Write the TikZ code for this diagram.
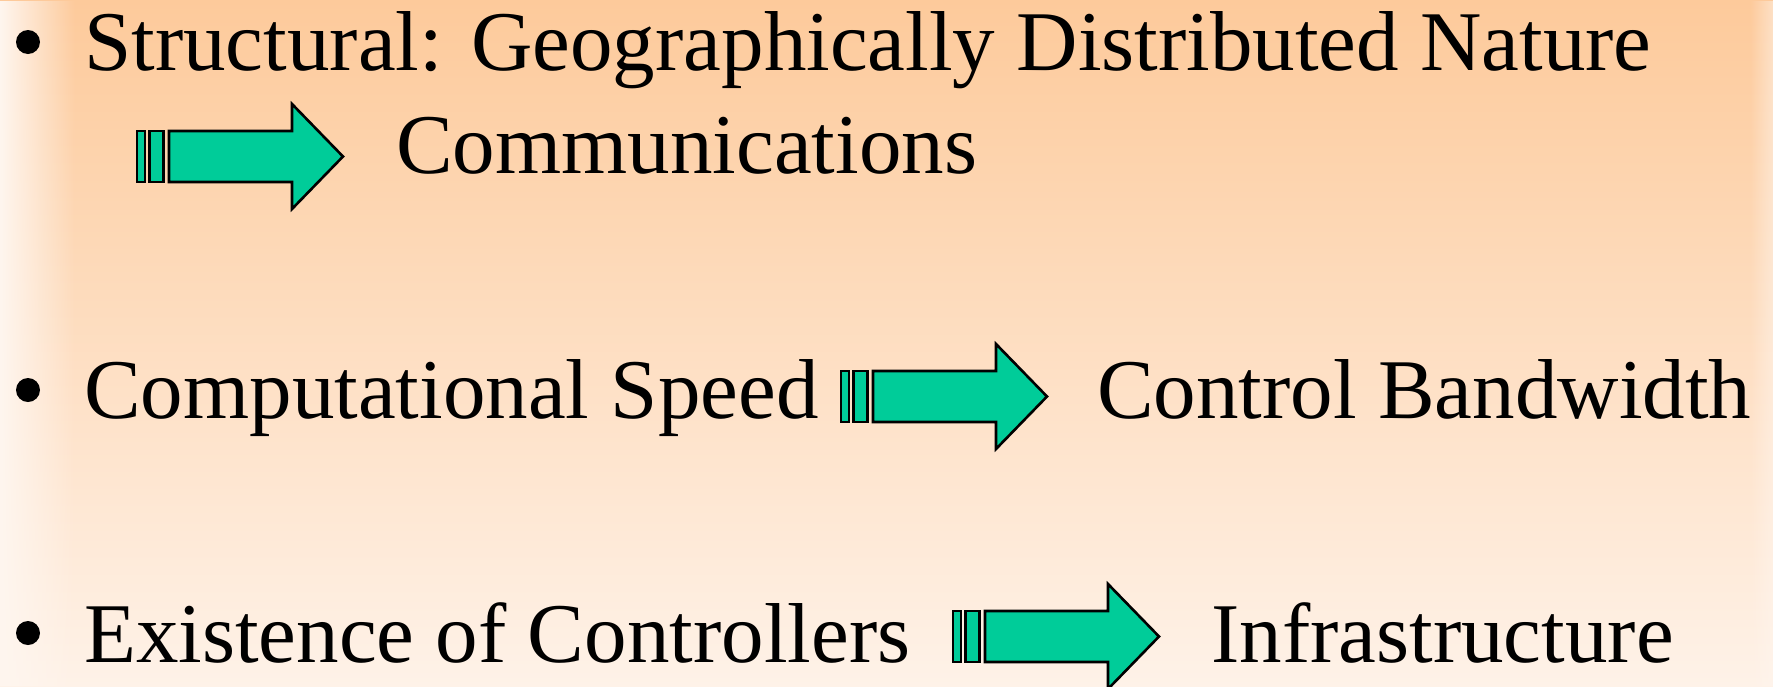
\documentclass[tikz,border=0pt]{standalone}
\usepackage{fontspec}
\setmainfont{Liberation Serif}
\usetikzlibrary{fadings}
\definecolor{bgtop}{RGB}{253,202,155}
\definecolor{bgbot}{RGB}{254,242,232}
\definecolor{edgecol}{RGB}{255,246,239}
\definecolor{arrowgreen}{RGB}{0,204,153}
\tikzset{
 txt/.style={anchor=base west, inner sep=0pt, font=\fontsize{85}{100}\selectfont},
 bul/.style={circle, fill=black, inner sep=0pt, minimum size=24pt},
 fatarrow/.pic={
  \begin{scope}[fill=arrowgreen, draw=black, line width=2.6pt, line join=miter]
  \filldraw (0,-25.5) rectangle (8,25.5);
  \filldraw (12.5,-25.5) rectangle (26.5,25.5);
  \filldraw (32,-25.5) -- (155,-25.5) -- (155,-52.5) -- (206,0) -- (155,52.5) -- (155,25.5) -- (32,25.5) -- cycle;
  \end{scope}
 }
}
\begin{document}
\begin{tikzpicture}[x=1pt,y=-1pt]
\useasboundingbox (0,0) rectangle (1773,686);
% background
\shade[top color=bgtop, bottom color=bgbot] (0,0) rectangle (1773,686);
\fill[edgecol, path fading=east] (0,0) rectangle (75,686);
\fill[edgecol, path fading=west, opacity=0.5] (1750,0) rectangle (1773,686);
% bullets
\node[bul] (b1) at (28,42) {};
\node[bul] (b2) at (28,390) {};
\node[bul] (b3) at (28,633) {};
% texts
\node[txt] (t1) at (84,70) {Structural: Geographically Distributed Nature};
\node[txt] (t1b) at (396,173) {Communications};
\node[txt] (t2) at (84,418) {Computational Speed};
\node[txt] (t2b) at (1097,418) {Control Bandwidth};
\node[txt] (t3) at (84,662) {Existence of Controllers};
\node[txt] (t3b) at (1211,662) {Infrastructure};
% arrows
\pic at (137,156.5) {fatarrow};
\pic at (841,396.5) {fatarrow};
\pic at (953,636.5) {fatarrow};
\end{tikzpicture}
\end{document}
